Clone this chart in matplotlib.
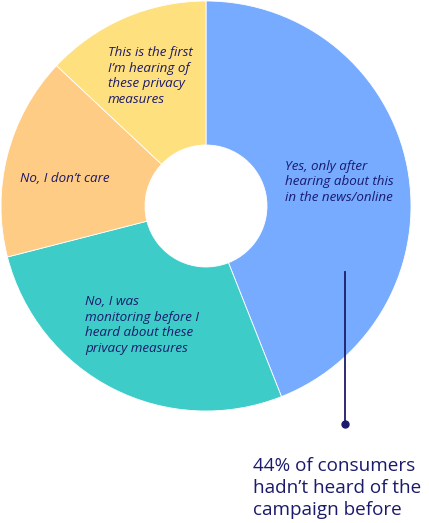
import matplotlib
matplotlib.use("Agg")
import matplotlib.pyplot as plt

labels = ["Yes, only after\nhearing about this\nin the news/online",
          "No, I was\nmonitoring before I\nheard about these\nprivacy measures",
          "No, I don\u2019t care",
          "This is the first\nI\u2019m hearing of\nthese privacy\nmeasures"]
values = [44, 27, 16, 13]
colors = ["#76ABFF", "#3ECCC9", "#FFCC85", "#FFE07E"]
callout = "44% of consumers\nhadn\u2019t heard of the\ncampaign before"

navy = "#1B1A6B"
W, H = 429, 523
fig = plt.figure(figsize=(W / 100, H / 100), dpi=100)
ax = fig.add_axes([0, 0, 1, 1])

cx, cy, r = 206, H - 206, 205
ax.pie(values, colors=colors, startangle=90, counterclock=False,
       radius=r, center=(cx, cy), frame=True,
       wedgeprops=dict(linewidth=0.6, edgecolor="white", width=r - 61))
ax.set_xlim(0, W)
ax.set_ylim(0, H)
ax.set_aspect("equal")
ax.axis("off")

fam = ["Open Sans", "DejaVu Sans"]
label_pos = [(285, 182), (85, 325), (20, 178), (108, 76)]
for lab, (x, y) in zip(labels, label_pos):
    ax.text(x, H - y, lab, ha="left", va="center", fontsize=9.6,
            style="italic", color=navy, family=fam, linespacing=1.25)

ax.plot([345, 345], [H - 272, H - 424], color=navy, lw=1.3)
ax.plot([345], [H - 424], "o", color=navy, ms=5)
ax.text(253, H - 488, callout, ha="left", va="center", fontsize=13.6,
        color=navy, family=fam, linespacing=1.3)

fig.savefig("out.png", dpi=100)
